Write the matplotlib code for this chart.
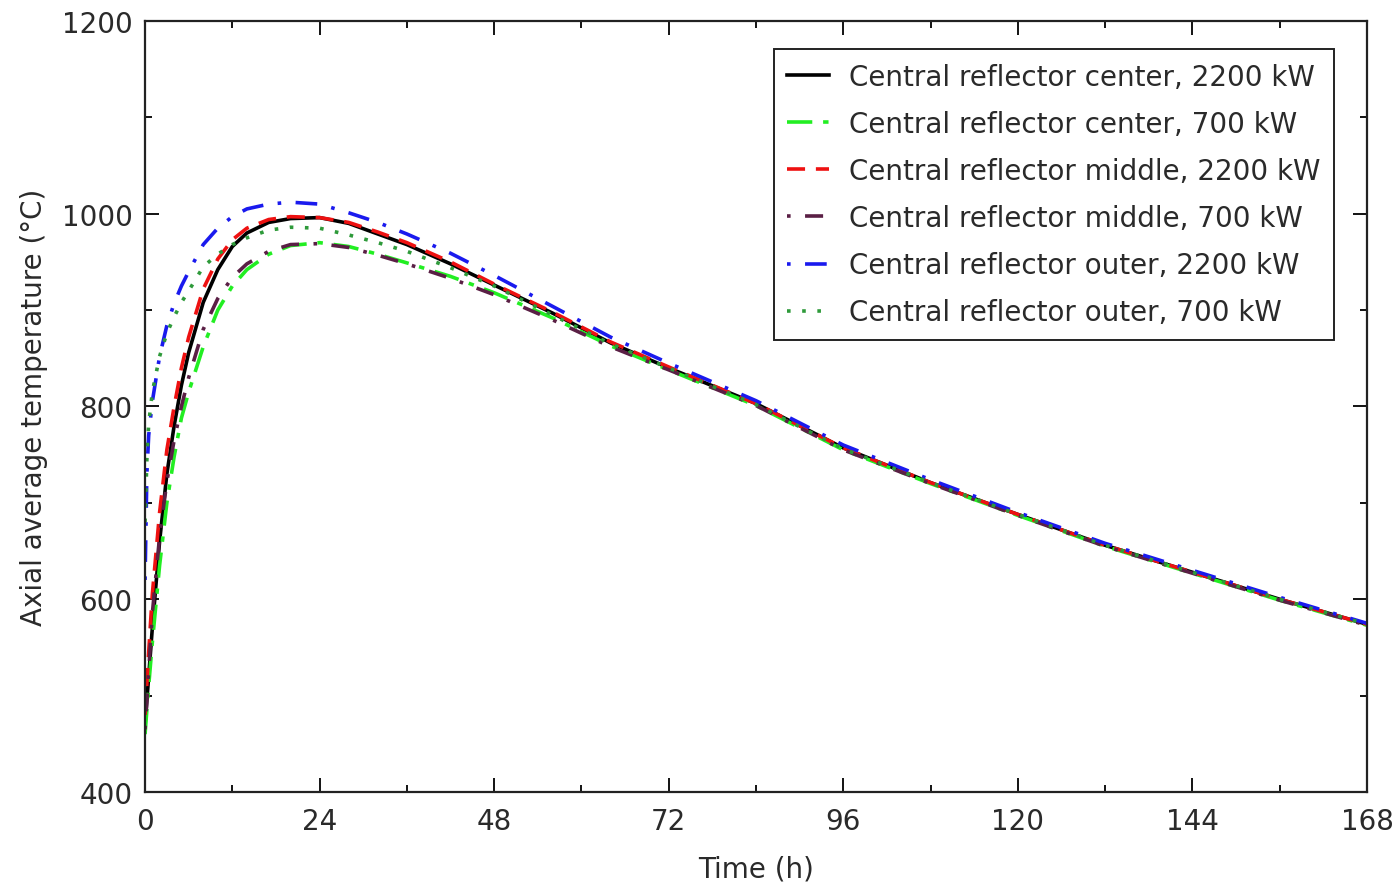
import numpy as np
import matplotlib
matplotlib.use("Agg")
import matplotlib.pyplot as plt
from matplotlib.ticker import MultipleLocator

# time points (h)
t_center = [0, 0.5, 1, 2, 3, 4, 5, 6, 8, 10, 12, 14, 17, 20, 24, 28, 32, 36, 42, 48,
            56, 64, 72, 84, 96, 108, 120, 132, 144, 156, 168]
t_outer = [0, 0.25, 0.5, 1, 2, 3, 4, 5, 6, 8, 10, 12, 14, 17, 20, 24, 28, 32, 36, 42, 48,
           56, 64, 72, 84, 96, 108, 120, 132, 144, 156, 168]

# temperatures (degC)
center_2200 = [470, 520, 570, 660, 730, 780, 822, 856, 908, 942, 966, 980, 991, 995, 996,
               990, 979, 968, 948, 926, 897, 866, 840, 803, 757, 721, 688, 656, 628, 600, 574]
center_700 = [460, 510, 555, 635, 700, 748, 788, 815, 862, 900, 925, 942, 958, 967, 970,
              966, 958, 949, 935, 918, 892, 863, 838, 801, 755, 720, 687, 655, 627, 599, 573]
middle_2200 = [480, 545, 605, 690, 755, 800, 840, 872, 922, 953, 973, 985, 994, 997, 996,
               991, 981, 970, 950, 927, 898, 867, 841, 803, 757, 721, 688, 656, 628, 600, 574]
middle_700 = [465, 525, 585, 665, 722, 765, 800, 830, 880, 912, 934, 948, 961, 968, 969,
              965, 957, 948, 933, 916, 890, 862, 838, 801, 755, 720, 687, 655, 627, 599, 573]
outer_2200 = [620, 730, 770, 805, 852, 884, 907, 925, 940, 968, 985, 997, 1005, 1010, 1012,
              1010, 1001, 991, 979, 959, 936, 904, 872, 845, 806, 760, 724, 690, 658, 630, 602, 575]
outer_700 = [680, 745, 782, 815, 852, 876, 893, 908, 920, 945, 958, 968, 975, 983, 986,
             985, 978, 970, 961, 944, 925, 895, 865, 840, 802, 756, 721, 688, 656, 628, 600, 574]

labels = ["Central reflector center, 2200 kW", "Central reflector center, 700 kW",
          "Central reflector middle, 2200 kW", "Central reflector middle, 700 kW",
          "Central reflector outer, 2200 kW", "Central reflector outer, 700 kW"]

plt.rcParams['font.family'] = ['DejaVu Sans']
text_col = '#2a2a2a'
fs = 20

fig = plt.figure(figsize=(13.96, 8.87), dpi=100)
ax = fig.add_axes([0.1039, 0.106, 0.8753, 0.8692])

lw = 2.6
ax.plot(t_center, center_2200, color='black', lw=lw, ls='-', label=labels[0])
ax.plot(t_center, center_700, color='#22ee22', lw=lw, ls=(0, (7, 3, 1.5, 3)), label=labels[1])
ax.plot(t_center, middle_2200, color='#ee1111', lw=lw, ls=(0, (5, 3)), label=labels[2])
ax.plot(t_center, middle_700, color='#5a1f45', lw=lw, ls=(0, (1, 4, 5, 4)), label=labels[3])
ax.plot(t_outer, outer_2200, color='#1a1aee', lw=lw, ls=(0, (1, 4, 6, 4)), label=labels[4])
ax.plot(t_outer, outer_700, color='#2e9a3a', lw=lw, ls=(0, (1, 3.2)), label=labels[5])

ax.set_xlim(0, 168)
ax.set_ylim(400, 1200)
ax.xaxis.set_major_locator(MultipleLocator(24))
ax.xaxis.set_minor_locator(MultipleLocator(12))
ax.yaxis.set_major_locator(MultipleLocator(200))
ax.yaxis.set_minor_locator(MultipleLocator(100))
ax.tick_params(which='both', direction='in', top=True, right=True, labelsize=fs,
               labelcolor=text_col, width=1.3)
ax.tick_params(which='major', length=10)
ax.tick_params(axis='x', which='major', pad=11)
ax.tick_params(axis='y', which='major', pad=9)
ax.tick_params(which='minor', length=5)
for s in ax.spines.values():
    s.set_linewidth(1.6)
    s.set_color('#222222')

ax.set_xlabel("Time (h)", fontsize=fs, color=text_col, labelpad=14)
ax.set_ylabel("Axial average temperature (°C)", fontsize=fs, color=text_col, labelpad=10)

leg = ax.legend(loc='upper right', bbox_to_anchor=(0.973, 0.964), fontsize=fs,
                fancybox=False, edgecolor='#222222', framealpha=1,
                handlelength=1.5, handletextpad=0.7, labelspacing=0.69,
                borderpad=0.5, borderaxespad=0)
leg.get_frame().set_linewidth(1.4)
for txt in leg.get_texts():
    txt.set_color(text_col)

fig.savefig("out.png", dpi=100)
